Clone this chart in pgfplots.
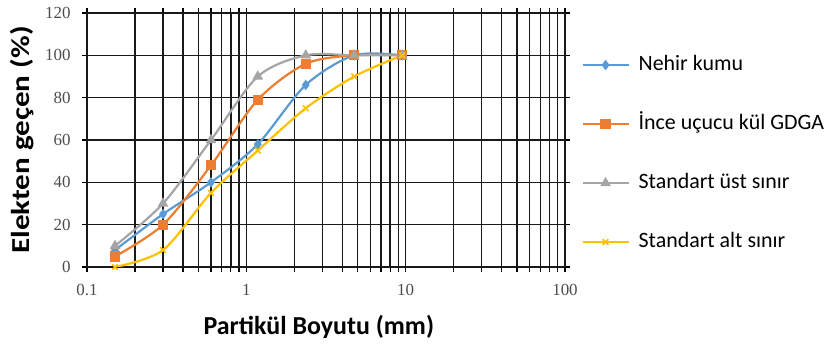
\documentclass[border=0pt]{standalone}
\usepackage{pgfplots}
\pgfplotsset{compat=1.18}
\usepackage{graphicx}
\usepackage{fontspec}
\setmainfont{Liberation Serif}
\newfontfamily\calfont{Carlito}

\definecolor{cblue}{HTML}{5B9BD5}
\definecolor{corange}{HTML}{ED7D31}
\definecolor{cgray}{HTML}{A5A5A5}
\definecolor{cyellow}{HTML}{FFC000}

\begin{document}
\begin{tikzpicture}
\path[use as bounding box] (0bp,0bp) rectangle (829bp,347bp);
\begin{axis}[
  at={(87bp,80bp)}, anchor=south west,
  scale only axis, width=478bp, height=254bp,
  xmode=log, xmin=0.1, xmax=100, ymin=0, ymax=120,
  ytick={0,20,...,120},
  xtick={0.1,1,10,100},
  xticklabels={0.1,1,10,100},
  minor xtick={0.2,0.3,0.4,0.5,0.6,0.7,0.8,0.9,2,3,4,5,6,7,8,9,20,30,40,50,60,70,80,90},
  grid=both,
  major grid style={black!90, line width=1.5bp},
  minor grid style={black!90, line width=1.5bp},
  axis line style={black!90, line width=1.5bp},
  tick style={black, line width=1.2bp},
  tick align=outside, major tick length=5bp, minor tick length=5bp,
  /pgf/number format/assume math mode=true,
  tick label style={font=\fontsize{17}{17}\selectfont, text=black!70},
  xticklabel style={yshift=-9bp},
  yticklabel style={xshift=-8bp},
  xlabel={Partikül Boyutu (mm)},
  ylabel={\scalebox{1.2}[1]{Elekten geçen (\%)}},
  label style={font=\calfont\bfseries\fontsize{26}{26}\selectfont},
  xlabel style={at={(axis description cs:0.485,-0.236)}, anchor=center},
  ylabel style={at={(axis description cs:-0.136,0.50)}, anchor=center},
  legend style={at={(axis description cs:1.034,0.847)}, anchor=north west,
    draw=none, fill=none, inner sep=0pt, row sep=33bp,
    font=\calfont\fontsize{22}{22}\selectfont,
    nodes={text height=16bp, text depth=6bp, inner ysep=2bp, inner xsep=4bp},
    /tikz/every odd column/.append style={column sep=5bp}},
  legend cell align=left,
  legend image code/.code={\draw[mark repeat=2, mark phase=2, #1]
    plot coordinates {(0bp,0bp) (23bp,0bp) (46bp,0bp)};},
  every axis plot/.append style={line width=2.2bp, smooth, tension=0.5},
]
\addplot[cblue, mark=diamond*, mark size=3.5bp, mark options={fill=cblue}]
  coordinates {(0.15,8) (0.3,25) (0.6,40) (1.18,58) (2.36,86) (4.75,100) (9.5,100)};
\addlegendentry{Nehir kumu}
\addplot[corange, mark=square*, mark size=4bp, mark options={fill=corange}]
  coordinates {(0.15,5) (0.3,20) (0.6,48) (1.18,79) (2.36,96) (4.75,100) (9.5,100)};
\addlegendentry{İnce uçucu kül GDGA}
\addplot[cgray, mark=triangle*, mark size=4bp, mark options={fill=cgray}]
  coordinates {(0.15,10) (0.3,30) (0.6,60) (1.18,90) (2.36,100) (4.75,100) (9.5,100)};
\addlegendentry{Standart üst sınır}
\addplot[cyellow, mark=x, mark size=4bp, mark options={line width=1.6bp}]
  coordinates {(0.15,0) (0.3,8) (0.6,35) (1.18,55) (2.36,75) (4.75,90) (9.5,100)};
\addlegendentry{Standart alt sınır}
\end{axis}
\end{tikzpicture}
\end{document}
